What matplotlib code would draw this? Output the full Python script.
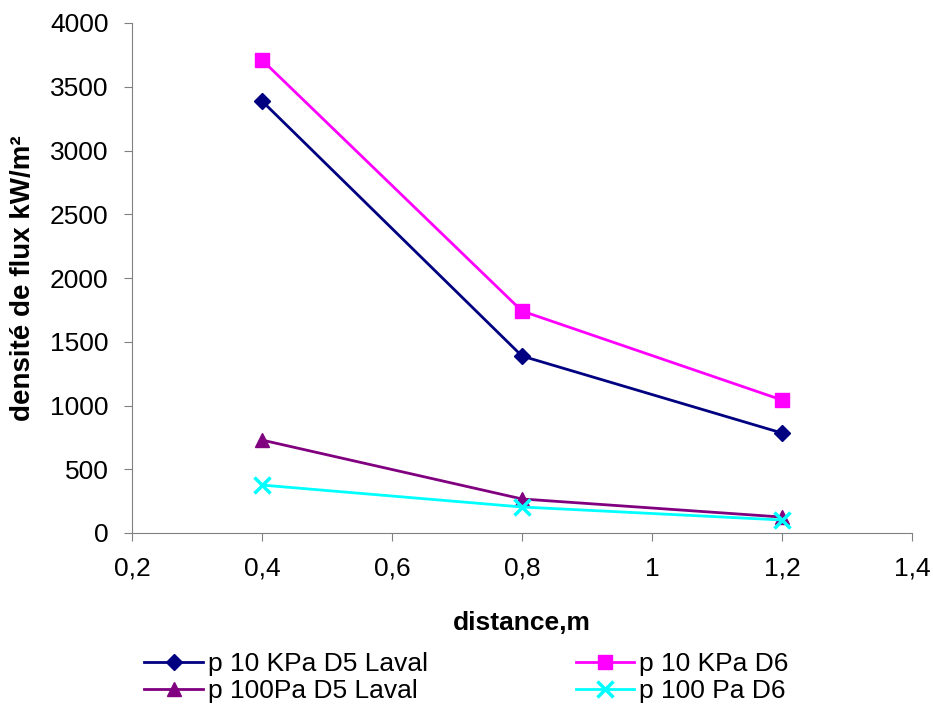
import matplotlib.pyplot as plt

plt.rcParams['font.family'] = ['Liberation Sans', 'DejaVu Sans']

distance = [0.4, 0.8, 1.2]
kpa10_d5 = [3388, 1388, 784]
kpa10_d6 = [3710, 1741, 1043]
pa100_d5 = [729, 267, 125]
pa100_d6 = [376, 204, 102]

xticks = [0.2, 0.4, 0.6, 0.8, 1.0, 1.2, 1.4]
xticklabels = ['0,2', '0,4', '0,6', '0,8', '1', '1,2', '1,4']
yticks = [0, 500, 1000, 1500, 2000, 2500, 3000, 3500, 4000]

fig = plt.figure(figsize=(9.33, 7.11), dpi=100)
ax = fig.add_axes([132 / 933, 1 - 533 / 711, (912 - 132) / 933, (533 - 23) / 711])

l1, = ax.plot(distance, kpa10_d5, color='#000080', lw=2, marker='D', ms=8, label='p 10 KPa D5 Laval')
l2, = ax.plot(distance, kpa10_d6, color='#ff00ff', lw=2, marker='s', ms=10, label='p 10 KPa D6')
l3, = ax.plot(distance, pa100_d5, color='#800080', lw=2, marker='^', ms=10, label='p 100Pa D5 Laval')
l4, = ax.plot(distance, pa100_d6, color='#00ffff', lw=2, marker='x', ms=11, mew=2.5, label='p 100 Pa D6')

ax.set_xlim(0.2, 1.4)
ax.set_ylim(0, 4000)
ax.set_xticks(xticks)
ax.set_xticklabels(xticklabels)
ax.set_yticks(yticks)
ax.tick_params(labelsize=19, length=6, color='#808080')
ax.tick_params(axis='x', pad=11)
ax.tick_params(axis='y', pad=11)
for s in ['top', 'right']:
    ax.spines[s].set_visible(False)
for s in ['left', 'bottom']:
    ax.spines[s].set_color('#808080')

ax.set_xlabel('distance,m', fontsize=19, fontweight='bold', labelpad=22)
ax.set_ylabel('densité de flux kW/m²', fontsize=20, fontweight='bold', labelpad=10)

handles = [l1, l3, l2, l4]
fig.legend(handles=handles, labels=[h.get_label() for h in handles],
           loc='lower left', bbox_to_anchor=(126 / 933, -0.015), ncol=2, frameon=False,
           fontsize=19, handlelength=2.2, columnspacing=5.6, labelspacing=0.12,
           handletextpad=0.2, borderaxespad=0.3)

fig.savefig('out.png')
